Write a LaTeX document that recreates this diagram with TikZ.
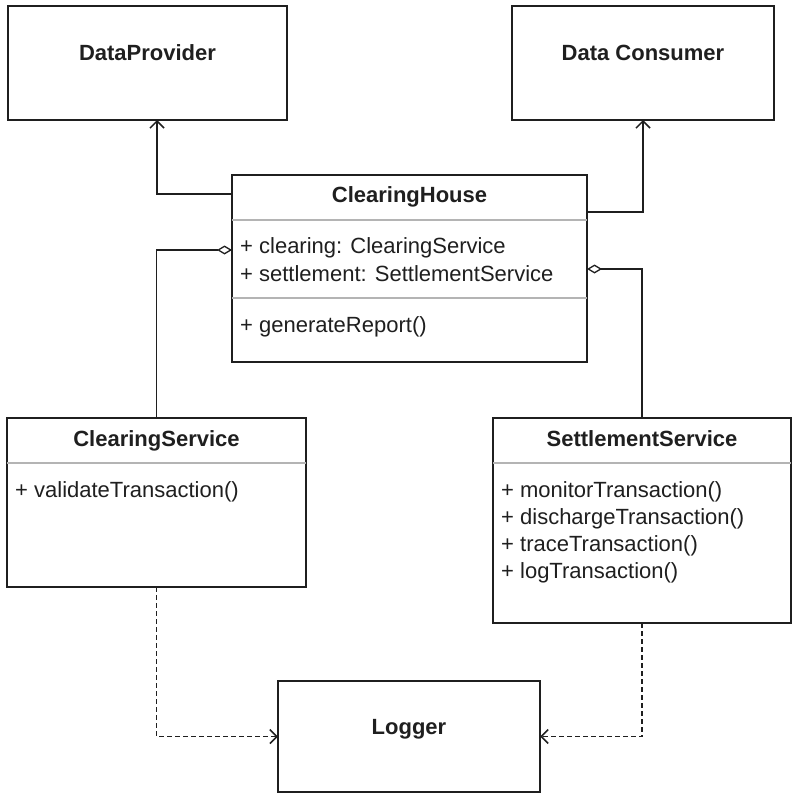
\documentclass[tikz,border=0pt]{standalone}
\usepackage{fontspec}
\setmainfont{Liberation Sans}
\usetikzlibrary{arrows.meta,calc}
\definecolor{ink}{HTML}{1F1F1F}
\definecolor{rule}{HTML}{B4B4B4}
\begin{document}
\begin{tikzpicture}[x=1pt,y=-1pt,
  box/.style={draw=ink, line width=1.6pt, fill=white, inner sep=0pt, outer sep=0pt, anchor=north west},
  sepline/.style={draw=rule, line width=1.2pt},
  title/.style={font=\fontsize{22}{26}\selectfont\bfseries, text=ink, anchor=base, inner sep=0pt},
  member/.style={font=\fontsize{22}{26}\selectfont, text=ink, anchor=base west, inner sep=0pt},
  link/.style={line width=1.5pt, draw=ink},
  dep/.style={link, -{Straight Barb[length=7pt,width=14pt,line width=1.5pt]}},
  agg/.style={link, {Diamond[open,length=15pt,width=9pt,line width=1.3pt]}-},
  use/.style={link, line width=1.8pt, dash pattern=on 4.5pt off 3.5pt, -{Straight Barb[length=7pt,width=14pt,line width=1.6pt]}}
]
\useasboundingbox (0,0) rectangle (792,794);

% class boxes
\node[box, minimum width=279pt, minimum height=114pt] (dp) at (8,6) {};
\node[box, minimum width=262pt, minimum height=114pt] (dc) at (512,6) {};
\node[box, minimum width=355pt, minimum height=187pt] (ch) at (232,175) {};
\node[box, minimum width=299pt, minimum height=169pt] (cs) at (7,418) {};
\node[box, minimum width=298pt, minimum height=205pt] (ss) at (493,418) {};
\node[box, minimum width=262pt, minimum height=111pt] (lg) at (278,681) {};

% compartment separators
\draw[sepline] ($(ch.north west)+(0,45)$) -- ($(ch.north east)+(0,45)$);
\draw[sepline] ($(ch.north west)+(0,123)$) -- ($(ch.north east)+(0,123)$);
\draw[sepline] ($(cs.north west)+(0,45)$) -- ($(cs.north east)+(0,45)$);
\draw[sepline] ($(ss.north west)+(0,45)$) -- ($(ss.north east)+(0,45)$);

% titles
\node[title] (dpt) at ($(dp.north)+(0,55)$) {DataProvider};
\node[title] (dct) at ($(dc.north)+(0,55)$) {Data Consumer};
\node[title] (cht) at ($(ch.north)+(0,28)$) {ClearingHouse};
\node[title] (cst) at ($(cs.north)+(0,28)$) {ClearingService};
\node[title] (sst) at ($(ss.north)+(0,28)$) {SettlementService};
\node[title] (lgt) at ($(lg.north)+(0,53)$) {Logger};

% members
\node[member] (cha) at ($(ch.north west)+(8,78)$) {+ clearing: ClearingService};
\node[member] (chb) at ($(ch.north west)+(8,106)$) {+ settlement: SettlementService};
\node[member] (chc) at ($(ch.north west)+(8,157)$) {+ generateReport()};
\node[member] (csa) at ($(cs.north west)+(8,79)$) {+ validateTransaction()};
\node[member] (ssa) at ($(ss.north west)+(8,79)$) {+ monitorTransaction()};
\node[member] (ssb) at ($(ss.north west)+(8,106)$) {+ dischargeTransaction()};
\node[member] (ssc) at ($(ss.north west)+(8,133)$) {+ traceTransaction()};
\node[member] (ssd) at ($(ss.north west)+(8,160)$) {+ logTransaction()};

% connector end points on the ClearingHouse border
\coordinate (chDP) at ($(ch.north west)+(0,19)$);
\coordinate (chDC) at ($(ch.north east)+(0,37)$);
\coordinate (chCS) at ($(ch.north west)+(0,75)$);
\coordinate (chSS) at ($(ch.north east)+(0,94)$);
\coordinate (dpIn) at ($(dp.south west)+(149,0)$);

% associations
\draw[dep] (chDP) -| (dpIn);
\draw[dep] (chDC) -| (dc.south);
\draw[agg] (chCS) -| (cs.north);
\draw[agg] (chSS) -| (ss.north);

% dependencies on the logger
\draw[use] (cs.south) |- (lg.west);
\draw[use] (ss.south) |- (lg.east);
\end{tikzpicture}
\end{document}
